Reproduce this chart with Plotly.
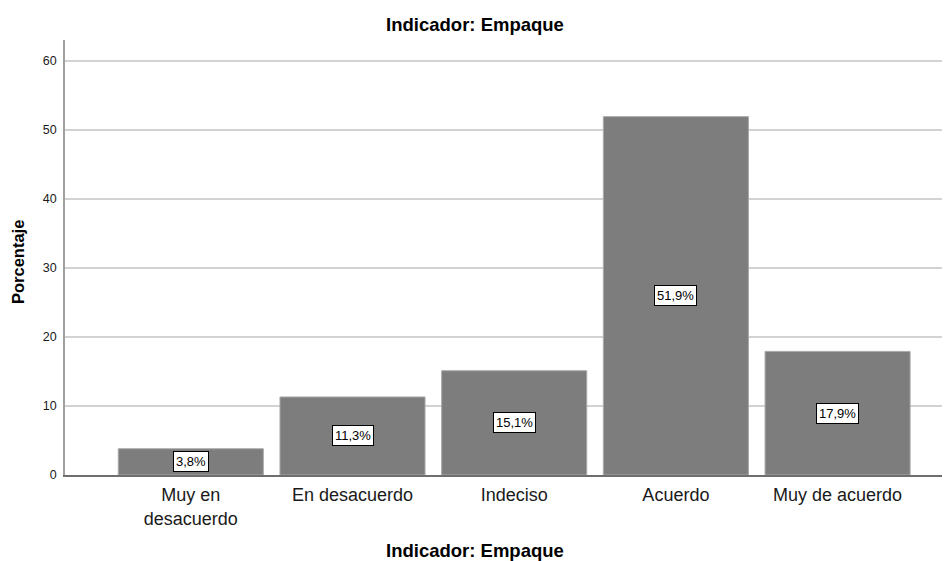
import plotly.graph_objects as go

categories = ["Muy en<br>desacuerdo", "En desacuerdo", "Indeciso", "Acuerdo", "Muy de acuerdo"]
values = [3.8, 11.3, 15.1, 51.9, 17.9]
labels = ["3,8%", "11,3%", "15,1%", "51,9%", "17,9%"]
y_ticks = [0, 10, 20, 30, 40, 50, 60]

FONT = "Liberation Sans, Arial, sans-serif"
# page has an 8px body margin; figure size shrunk so it fits the 950x561 window
OFF = 8
W, H = 950 - OFF, 561 - OFF
L, R, T, B = 65 - OFF, 1, 40 - OFF, 561 - 475

PW, PH = W - L - R, H - T - B

fig = go.Figure()
fig.add_trace(go.Bar(
    x=list(range(len(categories))),
    y=values,
    width=0.897,
    marker=dict(color="#7d7d7d", line=dict(color="#a8a8a8", width=1)),
    hoverinfo="skip",
))

for i, (v, lab) in enumerate(zip(values, labels)):
    fig.add_annotation(
        x=i, y=v / 2, text=lab, showarrow=False,
        font=dict(family=FONT, size=13, color="black"),
        bgcolor="white", bordercolor="black", borderwidth=1, borderpad=2,
    )

# Axis titles as paper annotations for exact placement (page coords minus OFF)
fig.add_annotation(
    xref="paper", yref="paper", x=(475 - 65) / PW, y=-(550 - 475) / PH,
    text="<b>Indicador: Empaque</b>", showarrow=False,
    xanchor="center", yanchor="middle",
    font=dict(family=FONT, size=18.5, color="black"),
)
fig.add_annotation(
    xref="paper", yref="paper", x=-(65 - 18) / PW, y=(475 - 262) / PH,
    text="<b>Porcentaje</b>", showarrow=False, textangle=-90,
    xanchor="center", yanchor="middle",
    font=dict(family=FONT, size=16.5, color="black"),
)

fig.update_layout(
    width=W, height=H,
    margin=dict(l=L, r=R, t=T, b=B, autoexpand=False),
    paper_bgcolor="white", plot_bgcolor="white",
    showlegend=False,
    font=dict(family=FONT, color="black"),
    title=dict(text="<b>Indicador: Empaque</b>", x=(475 - OFF) / W, xanchor="center",
               y=1 - (25 - OFF) / H, yanchor="middle", font=dict(family=FONT, size=18.5, color="black")),
)

fig.update_xaxes(
    range=[-0.778, 4.689], automargin=False,
    tickmode="array", tickvals=list(range(len(categories))), ticktext=categories,
    tickfont=dict(family=FONT, size=18, color="#1a1a1a"),
    showgrid=False, zeroline=False,
    showline=True, linecolor="#6e6e6e", linewidth=1.5,
    ticks="", ticklabelstandoff=3,
)

fig.update_yaxes(
    range=[0, 63.0], automargin=False,
    tickmode="array", tickvals=y_ticks, ticktext=[str(t) for t in y_ticks],
    tickfont=dict(family=FONT, size=12.5, color="#1a1a1a"),
    showgrid=True, gridcolor="#d2d2d2", gridwidth=1.5,
    zeroline=False,
    showline=True, linecolor="#a0a0a0", linewidth=1.5,
    ticks="", ticklabelstandoff=4,
)

fig.write_html("out.html")
